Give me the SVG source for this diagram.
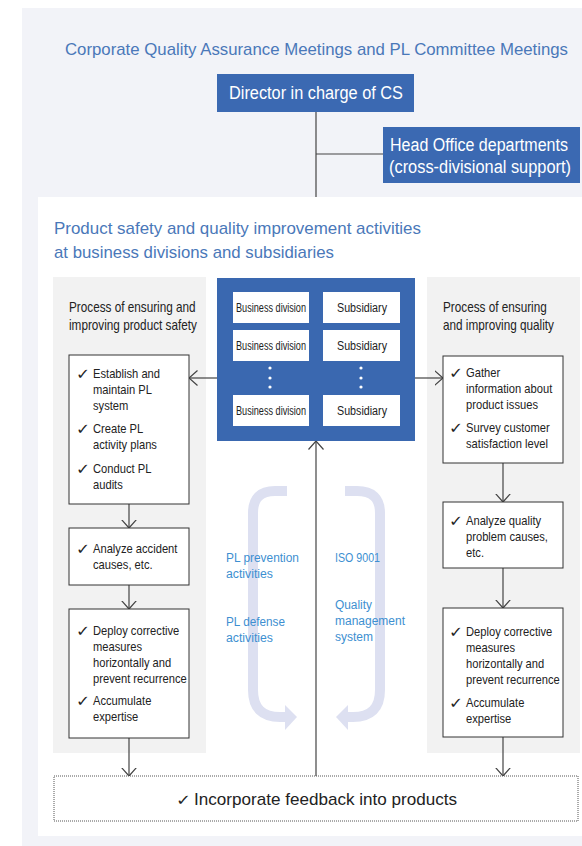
<svg xmlns="http://www.w3.org/2000/svg" width="582" height="846" viewBox="0 0 582 846">
<style>
text{font-family:"Liberation Sans",Arial,sans-serif;}
.ttl{fill:#4a78b9;font-size:17px;}
.wt{fill:#fff;font-size:18px;}
.bx{fill:#fff;stroke:#333;stroke-width:1;}
.t{fill:#222;font-size:13px;}
.ck{fill:#222;font-size:15px;font-family:"DejaVu Sans",sans-serif;}
.h{fill:#222;font-size:14px;}
.sm{fill:#222;font-size:12px;}
.bl{fill:#3d8fd1;font-size:12.5px;}
.ln{stroke:#444;stroke-width:1.2;fill:none;}
.cv{stroke:#dde0f1;stroke-width:10;fill:none;}
</style>
<defs>
<marker id="ah" viewBox="0 0 9 16" refX="8.5" refY="8" markerWidth="9" markerHeight="16" markerUnits="userSpaceOnUse" orient="auto">
<path d="M0,0.5 L8.5,8 L0,15.5" fill="none" stroke="#444" stroke-width="1.2"/>
</marker>
</defs>
<rect x="22" y="8" width="560" height="838" fill="#f2f3f8"/>
<rect x="38" y="197" width="544" height="639" fill="#fff"/>
<rect x="53" y="277" width="153" height="476" fill="#f2f2f2"/>
<rect x="427" y="277" width="153" height="476" fill="#f2f2f2"/>
<text class="ttl" x="65" y="55" textLength="503" lengthAdjust="spacingAndGlyphs">Corporate Quality Assurance Meetings and PL Committee Meetings</text>
<text class="ttl" x="54" y="234" textLength="367" lengthAdjust="spacingAndGlyphs">Product safety and quality improvement activities</text>
<text class="ttl" x="54" y="258" textLength="280" lengthAdjust="spacingAndGlyphs">at business divisions and subsidiaries</text>

<g id="curves">
<path class="cv" d="M287,491 H275 Q253,491 253,513 V690 Q253,717 280,717 H287"/>
<path d="M285,705 L297,717 L285,730 Z" fill="#dde0f1"/>
<path class="cv" d="M345,491 H357 Q380,491 380,513 V690 Q380,717 353,717 H346"/>
<path d="M348,705 L336,717 L348,730 Z" fill="#dde0f1"/>
</g>

<g id="connectors">
<line class="ln" x1="316" y1="112" x2="316" y2="197"/>
<line class="ln" x1="316" y1="154" x2="383" y2="154"/>
<line class="ln" x1="316" y1="776" x2="316" y2="441" marker-end="url(#ah)"/>
<line class="ln" x1="217" y1="378" x2="189" y2="378" marker-end="url(#ah)"/>
<line class="ln" x1="415" y1="378" x2="443" y2="378" marker-end="url(#ah)"/>
<line class="ln" x1="129" y1="504" x2="129" y2="528" marker-end="url(#ah)"/>
<line class="ln" x1="129" y1="585" x2="129" y2="609" marker-end="url(#ah)"/>
<line class="ln" x1="129" y1="738" x2="129" y2="776" marker-end="url(#ah)"/>
<line class="ln" x1="503" y1="463" x2="503" y2="502" marker-end="url(#ah)"/>
<line class="ln" x1="503" y1="568" x2="503" y2="608" marker-end="url(#ah)"/>
<line class="ln" x1="503" y1="737" x2="503" y2="776" marker-end="url(#ah)"/>
</g>

<g id="director">
<rect x="217" y="74" width="197" height="38" fill="#3b69b2"/>
<text class="wt" x="229" y="99" textLength="174" lengthAdjust="spacingAndGlyphs">Director in charge of CS</text>
</g>
<g id="headoffice">
<rect x="383" y="127" width="197" height="56" fill="#3b69b2"/>
<text class="wt" x="390" y="151" font-size="17" textLength="178" lengthAdjust="spacingAndGlyphs">Head Office departments</text>
<text class="wt" x="389" y="173" font-size="17" textLength="182" lengthAdjust="spacingAndGlyphs">(cross-divisional support)</text>
</g>

<g id="units">
<rect x="217" y="278" width="198" height="163" fill="#3a68b0"/>
<rect x="233" y="292" width="76" height="31" fill="#fff"/>
<rect x="233" y="330" width="76" height="31" fill="#fff"/>
<rect x="233" y="395" width="76" height="31" fill="#fff"/>
<rect x="323" y="292" width="77" height="31" fill="#fff"/>
<rect x="323" y="330" width="77" height="31" fill="#fff"/>
<rect x="323" y="395" width="77" height="31" fill="#fff"/>
<text class="sm" x="236" y="312" textLength="70" lengthAdjust="spacingAndGlyphs">Business division</text>
<text class="sm" x="236" y="350" textLength="70" lengthAdjust="spacingAndGlyphs">Business division</text>
<text class="sm" x="236" y="415" textLength="70" lengthAdjust="spacingAndGlyphs">Business division</text>
<text class="sm" x="337" y="312" textLength="50" lengthAdjust="spacingAndGlyphs">Subsidiary</text>
<text class="sm" x="337" y="350" textLength="50" lengthAdjust="spacingAndGlyphs">Subsidiary</text>
<text class="sm" x="337" y="415" textLength="50" lengthAdjust="spacingAndGlyphs">Subsidiary</text>
<g fill="#fff">
<circle cx="270" cy="368" r="1.6"/><circle cx="270" cy="378" r="1.6"/><circle cx="270" cy="387" r="1.6"/>
<circle cx="361" cy="368" r="1.6"/><circle cx="361" cy="378" r="1.6"/><circle cx="361" cy="387" r="1.6"/>
</g>
</g>

<g id="left-heading" transform="translate(11.04,0) scale(0.84,1)">
<text class="h" x="69" y="312">Process of ensuring and</text>
<text class="h" x="69" y="330">improving product safety</text>
</g>
<g id="left-box1">
<rect class="bx" x="69" y="355" width="120" height="149"/>
<text class="ck" x="76" y="379" textLength="14" lengthAdjust="spacingAndGlyphs">✓</text>
<text class="ck" x="76" y="434" textLength="14" lengthAdjust="spacingAndGlyphs">✓</text>
<text class="ck" x="76" y="474" textLength="14" lengthAdjust="spacingAndGlyphs">✓</text>
<g transform="translate(9.66,0) scale(0.86,1)">
<text class="t" x="96.91" y="378">Establish and</text>
<text class="t" x="96.91" y="394">maintain PL</text>
<text class="t" x="96.91" y="410">system</text>
<text class="t" x="96.91" y="433">Create PL</text>
<text class="t" x="96.91" y="449">activity plans</text>
<text class="t" x="96.91" y="473">Conduct PL</text>
<text class="t" x="96.91" y="489">audits</text>
</g>
</g>
<g id="left-box2">
<rect class="bx" x="69" y="528" width="120" height="57"/>
<text class="ck" x="76" y="554" textLength="14" lengthAdjust="spacingAndGlyphs">✓</text>
<g transform="translate(9.66,0) scale(0.86,1)">
<text class="t" x="96.91" y="553">Analyze accident</text>
<text class="t" x="96.91" y="569">causes, etc.</text>
</g>
</g>
<g id="left-box3">
<rect class="bx" x="69" y="609" width="120" height="129"/>
<text class="ck" x="76" y="636" textLength="14" lengthAdjust="spacingAndGlyphs">✓</text>
<text class="ck" x="76" y="706" textLength="14" lengthAdjust="spacingAndGlyphs">✓</text>
<g transform="translate(9.66,0) scale(0.86,1)">
<text class="t" x="96.91" y="635">Deploy corrective</text>
<text class="t" x="96.91" y="651">measures</text>
<text class="t" x="96.91" y="667">horizontally and</text>
<text class="t" x="96.91" y="683">prevent recurrence</text>
<text class="t" x="96.91" y="705">Accumulate</text>
<text class="t" x="96.91" y="721">expertise</text>
</g>
</g>

<g id="right-heading" transform="translate(70.88,0) scale(0.84,1)">
<text class="h" x="443" y="312">Process of ensuring</text>
<text class="h" x="443" y="330">and improving quality</text>
</g>
<g id="right-box1">
<rect class="bx" x="443" y="356" width="120" height="107"/>
<text class="ck" x="449" y="378" textLength="14" lengthAdjust="spacingAndGlyphs">✓</text>
<text class="ck" x="449" y="433" textLength="14" lengthAdjust="spacingAndGlyphs">✓</text>
<g transform="translate(62.02,0) scale(0.86,1)">
<text class="t" x="469.74" y="377">Gather</text>
<text class="t" x="469.74" y="393">information about</text>
<text class="t" x="469.74" y="409">product issues</text>
<text class="t" x="469.74" y="432">Survey customer</text>
<text class="t" x="469.74" y="448">satisfaction level</text>
</g>
</g>
<g id="right-box2">
<rect class="bx" x="443" y="502" width="120" height="66"/>
<text class="ck" x="449" y="526" textLength="14" lengthAdjust="spacingAndGlyphs">✓</text>
<g transform="translate(62.02,0) scale(0.86,1)">
<text class="t" x="469.74" y="525">Analyze quality</text>
<text class="t" x="469.74" y="541">problem causes,</text>
<text class="t" x="469.74" y="557">etc.</text>
</g>
</g>
<g id="right-box3">
<rect class="bx" x="443" y="608" width="120" height="129"/>
<text class="ck" x="449" y="637" textLength="14" lengthAdjust="spacingAndGlyphs">✓</text>
<text class="ck" x="449" y="708" textLength="14" lengthAdjust="spacingAndGlyphs">✓</text>
<g transform="translate(62.02,0) scale(0.86,1)">
<text class="t" x="469.74" y="636">Deploy corrective</text>
<text class="t" x="469.74" y="652">measures</text>
<text class="t" x="469.74" y="668">horizontally and</text>
<text class="t" x="469.74" y="684">prevent recurrence</text>
<text class="t" x="469.74" y="707">Accumulate</text>
<text class="t" x="469.74" y="723">expertise</text>
</g>
</g>

<g id="labels">
<text class="bl" x="226" y="562" textLength="73" lengthAdjust="spacingAndGlyphs">PL prevention</text>
<text class="bl" x="226" y="578" textLength="47" lengthAdjust="spacingAndGlyphs">activities</text>
<text class="bl" x="226" y="626" textLength="59" lengthAdjust="spacingAndGlyphs">PL defense</text>
<text class="bl" x="226" y="642" textLength="47" lengthAdjust="spacingAndGlyphs">activities</text>
<text class="bl" x="335" y="562" textLength="45" lengthAdjust="spacingAndGlyphs">ISO 9001</text>
<text class="bl" x="335" y="609" textLength="37" lengthAdjust="spacingAndGlyphs">Quality</text>
<text class="bl" x="335" y="625" textLength="70" lengthAdjust="spacingAndGlyphs">management</text>
<text class="bl" x="335" y="641" textLength="38" lengthAdjust="spacingAndGlyphs">system</text>
</g>

<g id="feedback">
<rect x="54" y="776" width="524" height="45" fill="#fff" stroke="#555" stroke-width="1" stroke-dasharray="1,1"/>
<text class="ck" x="176" y="805" font-size="17" textLength="15" lengthAdjust="spacingAndGlyphs">✓</text>
<text x="194" y="805" fill="#222" font-size="17" textLength="263" lengthAdjust="spacingAndGlyphs">Incorporate feedback into products</text>
</g>
</svg>
